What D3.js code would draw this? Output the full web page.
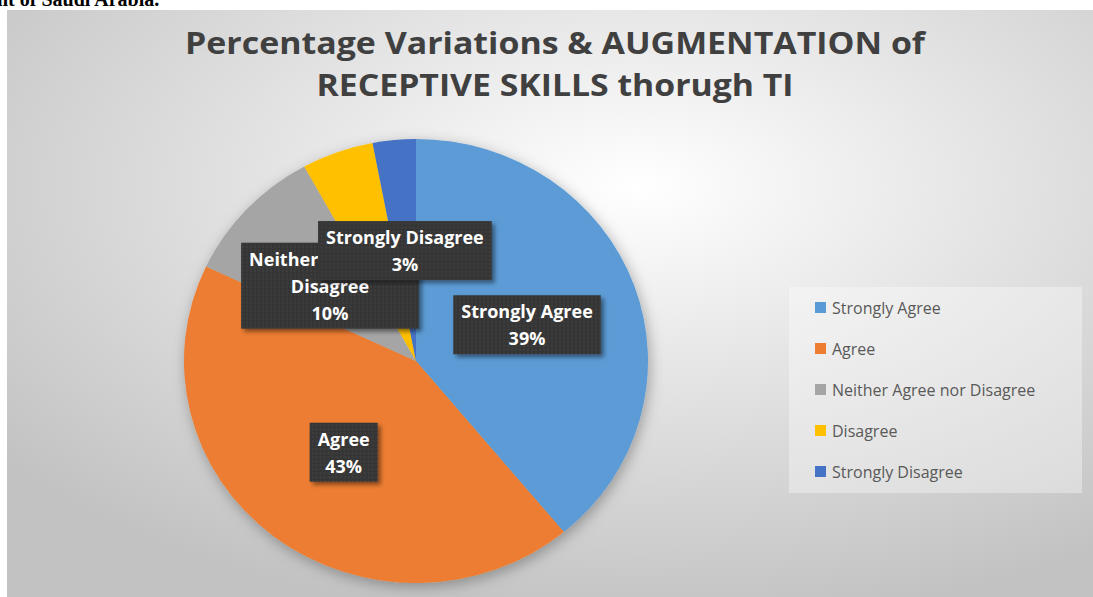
<!DOCTYPE html>
<html>
<head>
<meta charset="utf-8">
<script src="https://cdn.jsdelivr.net/npm/d3@7"></script>
<style>
  body { margin: 0; background: #fff; }
  svg { display: block; }
</style>
</head>
<body>
<div id="chart"></div>
<script>
// chart values
var categories = ["Strongly Agree", "Agree", "Neither Agree nor Disagree", "Disagree", "Strongly Disagree"];
var percentages = [39, 43, 10, 5, 3];
var colours = ["#5b9bd5", "#ed7d31", "#a5a5a5", "#ffc000", "#4472c4"];
// data label text for each slice (null = label not shown in the figure)
var labelLines = [["Strongly Agree"], ["Agree"], ["Neither Agree nor", "Disagree"], null, ["Strongly Disagree"]];
var titleLines = ["Percentage Variations & AUGMENTATION of", "RECEPTIVE SKILLS thorugh TI"];

var width = 1093, height = 597;
var cx = 416, cy = 361, radius = 232, squash = 0.957;
var font = "'Open Sans', Lato, sans-serif";

var svg = d3.select("#chart").append("svg")
    .attr("width", width)
    .attr("height", height);

var defs = svg.append("defs");

// grey radial background like the office chart area
var grad = defs.append("radialGradient")
    .attr("id", "bg")
    .attr("cx", "58%").attr("cy", "30%").attr("r", "75%");
grad.append("stop").attr("offset", "0%").attr("stop-color", "#ffffff");
grad.append("stop").attr("offset", "100%").attr("stop-color", "#c2c2c2");

var shadow = defs.append("filter").attr("id", "pieShadow")
    .attr("x", "-20%").attr("y", "-20%").attr("width", "140%").attr("height", "140%");
shadow.append("feDropShadow")
    .attr("dx", 2).attr("dy", 4).attr("stdDeviation", 7)
    .attr("flood-color", "#000").attr("flood-opacity", 0.3);

var boxShadow = defs.append("filter").attr("id", "boxShadow")
    .attr("x", "-20%").attr("y", "-20%").attr("width", "140%").attr("height", "150%");
boxShadow.append("feDropShadow")
    .attr("dx", 3).attr("dy", 3).attr("stdDeviation", 2)
    .attr("flood-color", "#000").attr("flood-opacity", 0.45);

// dotted texture of the data label boxes
var pat = defs.append("pattern").attr("id", "dots")
    .attr("width", 4).attr("height", 4).attr("patternUnits", "userSpaceOnUse");
pat.append("rect").attr("width", 4).attr("height", 4).attr("fill", "#363636");
pat.append("circle").attr("cx", 1).attr("cy", 1).attr("r", 0.7).attr("fill", "#4c4c4c");

// cropped caption line from the page above the figure
svg.append("text")
    .attr("x", -3).attr("y", 6)
    .style("font-family", "'Liberation Serif', serif")
    .style("font-size", "20px")
    .style("font-weight", "bold")
    .style("fill", "#000")
    .text("nt of Saudi Arabia.");

svg.append("rect")
    .attr("x", 7).attr("y", 10)
    .attr("width", width - 7).attr("height", height - 10)
    .attr("fill", "url(#bg)");

// title
var titleWidths = [740, 477];
svg.append("g").selectAll("text")
    .data(titleLines)
    .enter().append("text")
    .attr("x", 555)
    .attr("y", function(d, i) { return 54 + i * 42; })
    .attr("text-anchor", "middle")
    .attr("textLength", function(d, i) { return titleWidths[i]; })
    .attr("lengthAdjust", "spacingAndGlyphs")
    .style("font-family", font)
    .style("font-weight", "bold")
    .style("font-size", "30px")
    .style("fill", "#404040")
    .text(function(d) { return d; });

// pie
var pie = d3.pie().sort(null).value(function(d) { return d; });
var arcs = pie(percentages);
var arc = d3.arc().innerRadius(0).outerRadius(radius);
var labelArc = d3.arc().innerRadius(118).outerRadius(118);

svg.append("g")
    .attr("transform", "translate(" + cx + "," + cy + ") scale(1," + squash + ")")
    .attr("filter", "url(#pieShadow)")
    .selectAll("path")
    .data(arcs)
    .enter().append("path")
    .attr("d", arc)
    .attr("fill", function(d, i) { return colours[i]; });

// data labels
var labels = svg.append("g").attr("transform", "translate(" + cx + "," + cy + ")");
arcs.forEach(function(d, i) {
    if (!labelLines[i]) return;
    var c = labelArc.centroid(d);
    var lines = labelLines[i].concat([percentages[i] + "%"]);
    var g = labels.append("g")
        .attr("transform", "translate(" + c[0] + "," + (c[1] * squash + 2) + ")");
    var box = g.append("rect")
        .attr("fill", "url(#dots)")
        .attr("filter", "url(#boxShadow)");
    var t = g.append("text")
        .attr("text-anchor", "middle")
        .style("font-family", font)
        .style("font-weight", "bold")
        .style("font-size", "18px")
        .style("fill", "#ffffff");
    var lh = 27, h = lines.length * lh + 5;
    lines.forEach(function(s, j) {
        t.append("tspan").attr("x", 0).attr("y", -h / 2 + 23 + lh * j).text(s);
    });
    var w = t.node().getBBox().width + 16;
    box.attr("x", -w / 2).attr("y", -h / 2).attr("width", w).attr("height", h);
});

// legend
var legend = svg.append("g");
legend.append("rect")
    .attr("x", 789).attr("y", 287)
    .attr("width", 293).attr("height", 206)
    .attr("fill", "#ffffff").attr("fill-opacity", 0.35);

var item = legend.selectAll("g.item")
    .data(categories)
    .enter().append("g")
    .attr("class", "item")
    .attr("transform", function(d, i) { return "translate(815," + (308 + i * 41) + ")"; });
item.append("rect")
    .attr("x", 0).attr("y", -6)
    .attr("width", 11).attr("height", 11)
    .attr("fill", function(d, i) { return colours[i]; });
item.append("text")
    .attr("x", 17).attr("y", 6)
    .style("font-family", font)
    .style("font-size", "16px")
    .style("fill", "#595959")
    .text(function(d) { return d; });
</script>
</body>
</html>
